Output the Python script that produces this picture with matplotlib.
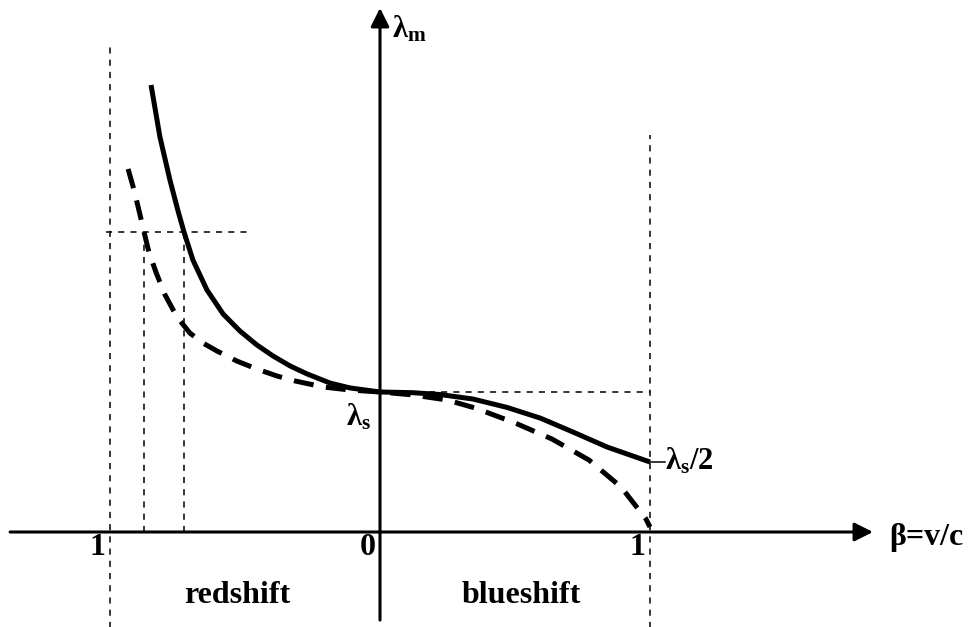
import matplotlib.pyplot as plt

plt.rcParams["font.family"] = ["Liberation Serif", "DejaVu Serif"]
plt.rcParams["font.weight"] = "bold"

# beta = v/c, lambda_m / lambda_s
solid_beta = [-0.848, -0.815, -0.778, -0.748, -0.726, -0.693, -0.641, -0.581,
              -0.519, -0.456, -0.396, -0.333, -0.270, -0.185, -0.111, 0.0,
              0.122, 0.222, 0.344, 0.470, 0.593, 0.715, 0.841, 1.0]
solid_lam = [3.193, 2.821, 2.514, 2.293, 2.143, 1.943, 1.729, 1.557,
             1.436, 1.336, 1.257, 1.186, 1.129, 1.064, 1.029, 1.0,
             0.995, 0.982, 0.950, 0.890, 0.814, 0.714, 0.607, 0.5]

dash_beta = [-0.933, -0.911, -0.893, -0.874, -0.856, -0.830, -0.796, -0.752,
             -0.704, -0.656, -0.604, -0.530, -0.456, -0.381, -0.315, -0.211,
             -0.111, 0.0, 0.122, 0.248, 0.352, 0.500, 0.637, 0.774, 0.893,
             0.985, 1.0]
dash_lam = [2.593, 2.443, 2.300, 2.143, 2.000, 1.857, 1.693, 1.536,
            1.421, 1.350, 1.293, 1.221, 1.164, 1.114, 1.079, 1.036,
            1.014, 1.0, 0.979, 0.943, 0.886, 0.779, 0.664, 0.514, 0.321,
            0.093, 0.036]

# guide lines
lam_mark = 2.143
beta_marks = [-0.874, -0.726]
tick_labels = ["1", "0", "1"]
tick_pos = [-1.0, 0.0, 1.0]

fig = plt.figure(figsize=(9.68, 6.27), dpi=100)
ax = fig.add_axes([0, 0, 1, 1])
ax.set_xlim(-380 / 270, 588 / 270)
ax.set_ylim(-95 / 140, 532 / 140)
ax.axis("off")

arrow = dict(arrowstyle="-|>,head_length=0.8,head_width=0.4", lw=2.2,
             color="k", mutation_scale=14, shrinkA=0, shrinkB=0)
ax.annotate("", xy=(1.826, 0), xytext=(-1.37, 0), arrowprops=arrow)
ax.annotate("", xy=(0, 3.743), xytext=(0, -0.629), arrowprops=arrow)

thin = dict(color="k", lw=1.1, linestyle=(0, (4, 4)))
ax.plot([-1, -1], [-0.7, 3.479], **thin)
ax.plot([1, 1], [-0.7, 2.836], **thin)
ax.plot([0, 1], [1, 1], **thin)
ax.plot([-1.015, -0.481], [lam_mark, lam_mark], **thin)
for b in beta_marks:
    ax.plot([b, b], [0, lam_mark], **thin)
ax.plot([1, 1.056], [0.5, 0.5], color="k", lw=1.1)

ax.plot(solid_beta, solid_lam, color="k", lw=3.6, solid_capstyle="butt",
        solid_joinstyle="round")
ax.plot(dash_beta, dash_lam, color="k", lw=3.6, linestyle=(0, (4, 2.5)))

for p, t in zip(tick_pos, tick_labels):
    ax.text(p - 0.045, -0.11, t, fontsize=23, ha="center", va="center")

ax.text(-0.53, -0.507, "redshift", fontsize=23, ha="center", va="baseline")
ax.text(0.522, -0.507, "blueshift", fontsize=23, ha="center", va="baseline")
ax.text(1.885, -0.093, r"β=v/c", fontsize=23, ha="left", va="baseline")

ax.text(0.044, 3.53, r"$\mathregular{\lambda_m}$", fontsize=22, ha="left",
        va="baseline")
ax.text(-0.126, 0.764, r"$\mathregular{\lambda_s}$", fontsize=22, ha="left",
        va="baseline")
ax.text(1.056, 0.443, r"$\mathregular{\lambda_s/2}$", fontsize=22, ha="left",
        va="baseline")

fig.savefig("out.png", dpi=100)
